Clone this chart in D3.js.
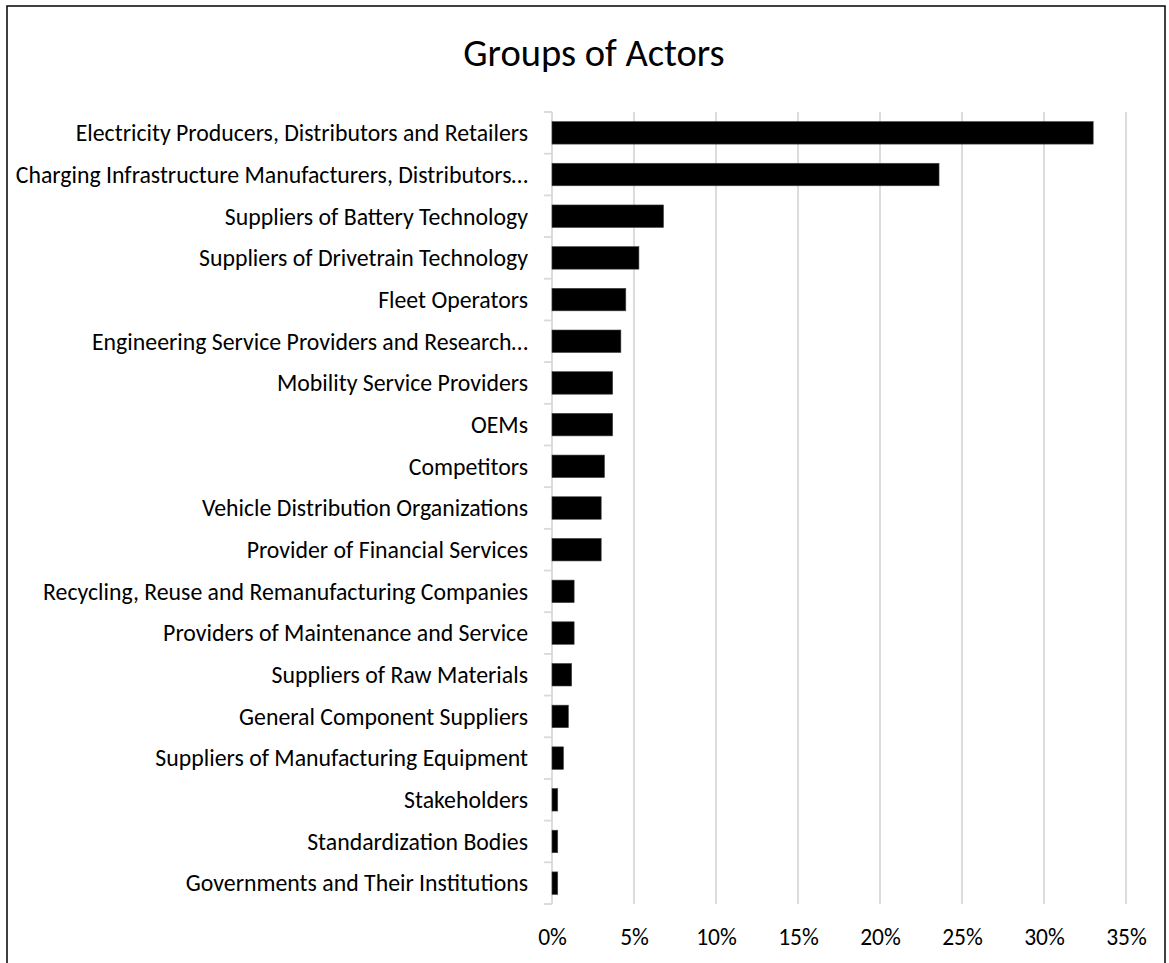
<!DOCTYPE html>
<html>
<head>
<meta charset="utf-8">
<script src="https://cdn.jsdelivr.net/npm/d3@7"></script>
<style>
  html, body { margin: 0; padding: 0; background: #fff; }
  svg { display: block; }
  text { font-family: Carlito, Calibri, Lato, "Open Sans", sans-serif; fill: #000; }
</style>
</head>
<body>
<svg id="chart" width="1169" height="963"></svg>
<script>
// Share of mentions per group of actors
const categories = [
  "Electricity Producers, Distributors and Retailers",
  "Charging Infrastructure Manufacturers, Distributors…",
  "Suppliers of Battery Technology",
  "Suppliers of Drivetrain Technology",
  "Fleet Operators",
  "Engineering Service Providers and Research…",
  "Mobility Service Providers",
  "OEMs",
  "Competitors",
  "Vehicle Distribution Organizations",
  "Provider of Financial Services",
  "Recycling, Reuse and Remanufacturing Companies",
  "Providers of Maintenance and Service",
  "Suppliers of Raw Materials",
  "General Component Suppliers",
  "Suppliers of Manufacturing Equipment",
  "Stakeholders",
  "Standardization Bodies",
  "Governments and Their Institutions"
];
const shares = [33.0, 23.6, 6.8, 5.3, 4.5, 4.2, 3.7, 3.7, 3.2, 3.0, 3.0, 1.35, 1.35, 1.2, 1.0, 0.7, 0.35, 0.35, 0.35];
const xTicks = [0, 5, 10, 15, 20, 25, 30, 35];
const title = "Groups of Actors";

const svg = d3.select("#chart");

// outer frame of the chart area
svg.append("rect")
  .attr("x", 7).attr("y", 6)
  .attr("width", 1158).attr("height", 980)
  .attr("fill", "none")
  .attr("stroke", "#000")
  .attr("stroke-width", 1.5);

const plot = { left: 552, right: 1126, top: 112, bottom: 904 };

const x = d3.scaleLinear().domain([0, 35]).range([plot.left, plot.right]);
const y = d3.scaleBand().domain(categories).range([plot.top, plot.bottom])
  .paddingInner(0.46).paddingOuter(0.23);

// title
svg.append("text")
  .attr("x", 594).attr("y", 66)
  .attr("text-anchor", "middle")
  .style("font-size", "38.5px")
  .text(title);

// vertical gridlines
svg.append("g")
  .selectAll("line")
  .data(xTicks.filter(d => d > 0))
  .join("line")
  .attr("x1", d => x(d)).attr("x2", d => x(d))
  .attr("y1", plot.top).attr("y2", plot.bottom)
  .attr("stroke", "#d9d9d9")
  .attr("stroke-width", 1.8);

// x axis labels
const xAxis = d3.axisBottom(x)
  .tickValues(xTicks)
  .tickFormat(d => d + "%")
  .tickSize(0)
  .tickPadding(0);
const gx = svg.append("g")
  .attr("transform", `translate(0,${plot.bottom + 41})`)
  .call(xAxis);
gx.select(".domain").remove();
gx.selectAll("text")
  .attr("dy", 0)
  .style("font-size", "23.5px")
  .style("font-family", "Carlito, Calibri, Lato, 'Open Sans', sans-serif");

// category axis: line with ticks at band boundaries
const step = y.step();
const boundaries = d3.range(categories.length + 1).map(i => plot.top + i * step);
const gy = svg.append("g");
gy.append("line")
  .attr("x1", plot.left).attr("x2", plot.left)
  .attr("y1", plot.top).attr("y2", plot.bottom)
  .attr("stroke", "#d9d9d9").attr("stroke-width", 1.8);
gy.selectAll("line.tick")
  .data(boundaries)
  .join("line")
  .attr("class", "tick")
  .attr("x1", plot.left - 8).attr("x2", plot.left)
  .attr("y1", d => d).attr("y2", d => d)
  .attr("stroke", "#d9d9d9").attr("stroke-width", 1.8);

// category labels
svg.append("g")
  .selectAll("text")
  .data(categories)
  .join("text")
  .attr("x", plot.left - 24)
  .attr("y", d => y(d) + y.bandwidth() / 2)
  .attr("dy", "0.35em")
  .attr("text-anchor", "end")
  .style("font-size", "23.8px")
  .text(d => d);

// bars
svg.append("g")
  .selectAll("rect")
  .data(categories)
  .join("rect")
  .attr("x", x(0))
  .attr("y", d => y(d))
  .attr("width", (d, i) => x(shares[i]) - x(0))
  .attr("height", y.bandwidth())
  .attr("fill", "#000")
  .attr("stroke", "#444")
  .attr("stroke-width", 0.6);
</script>
</body>
</html>
